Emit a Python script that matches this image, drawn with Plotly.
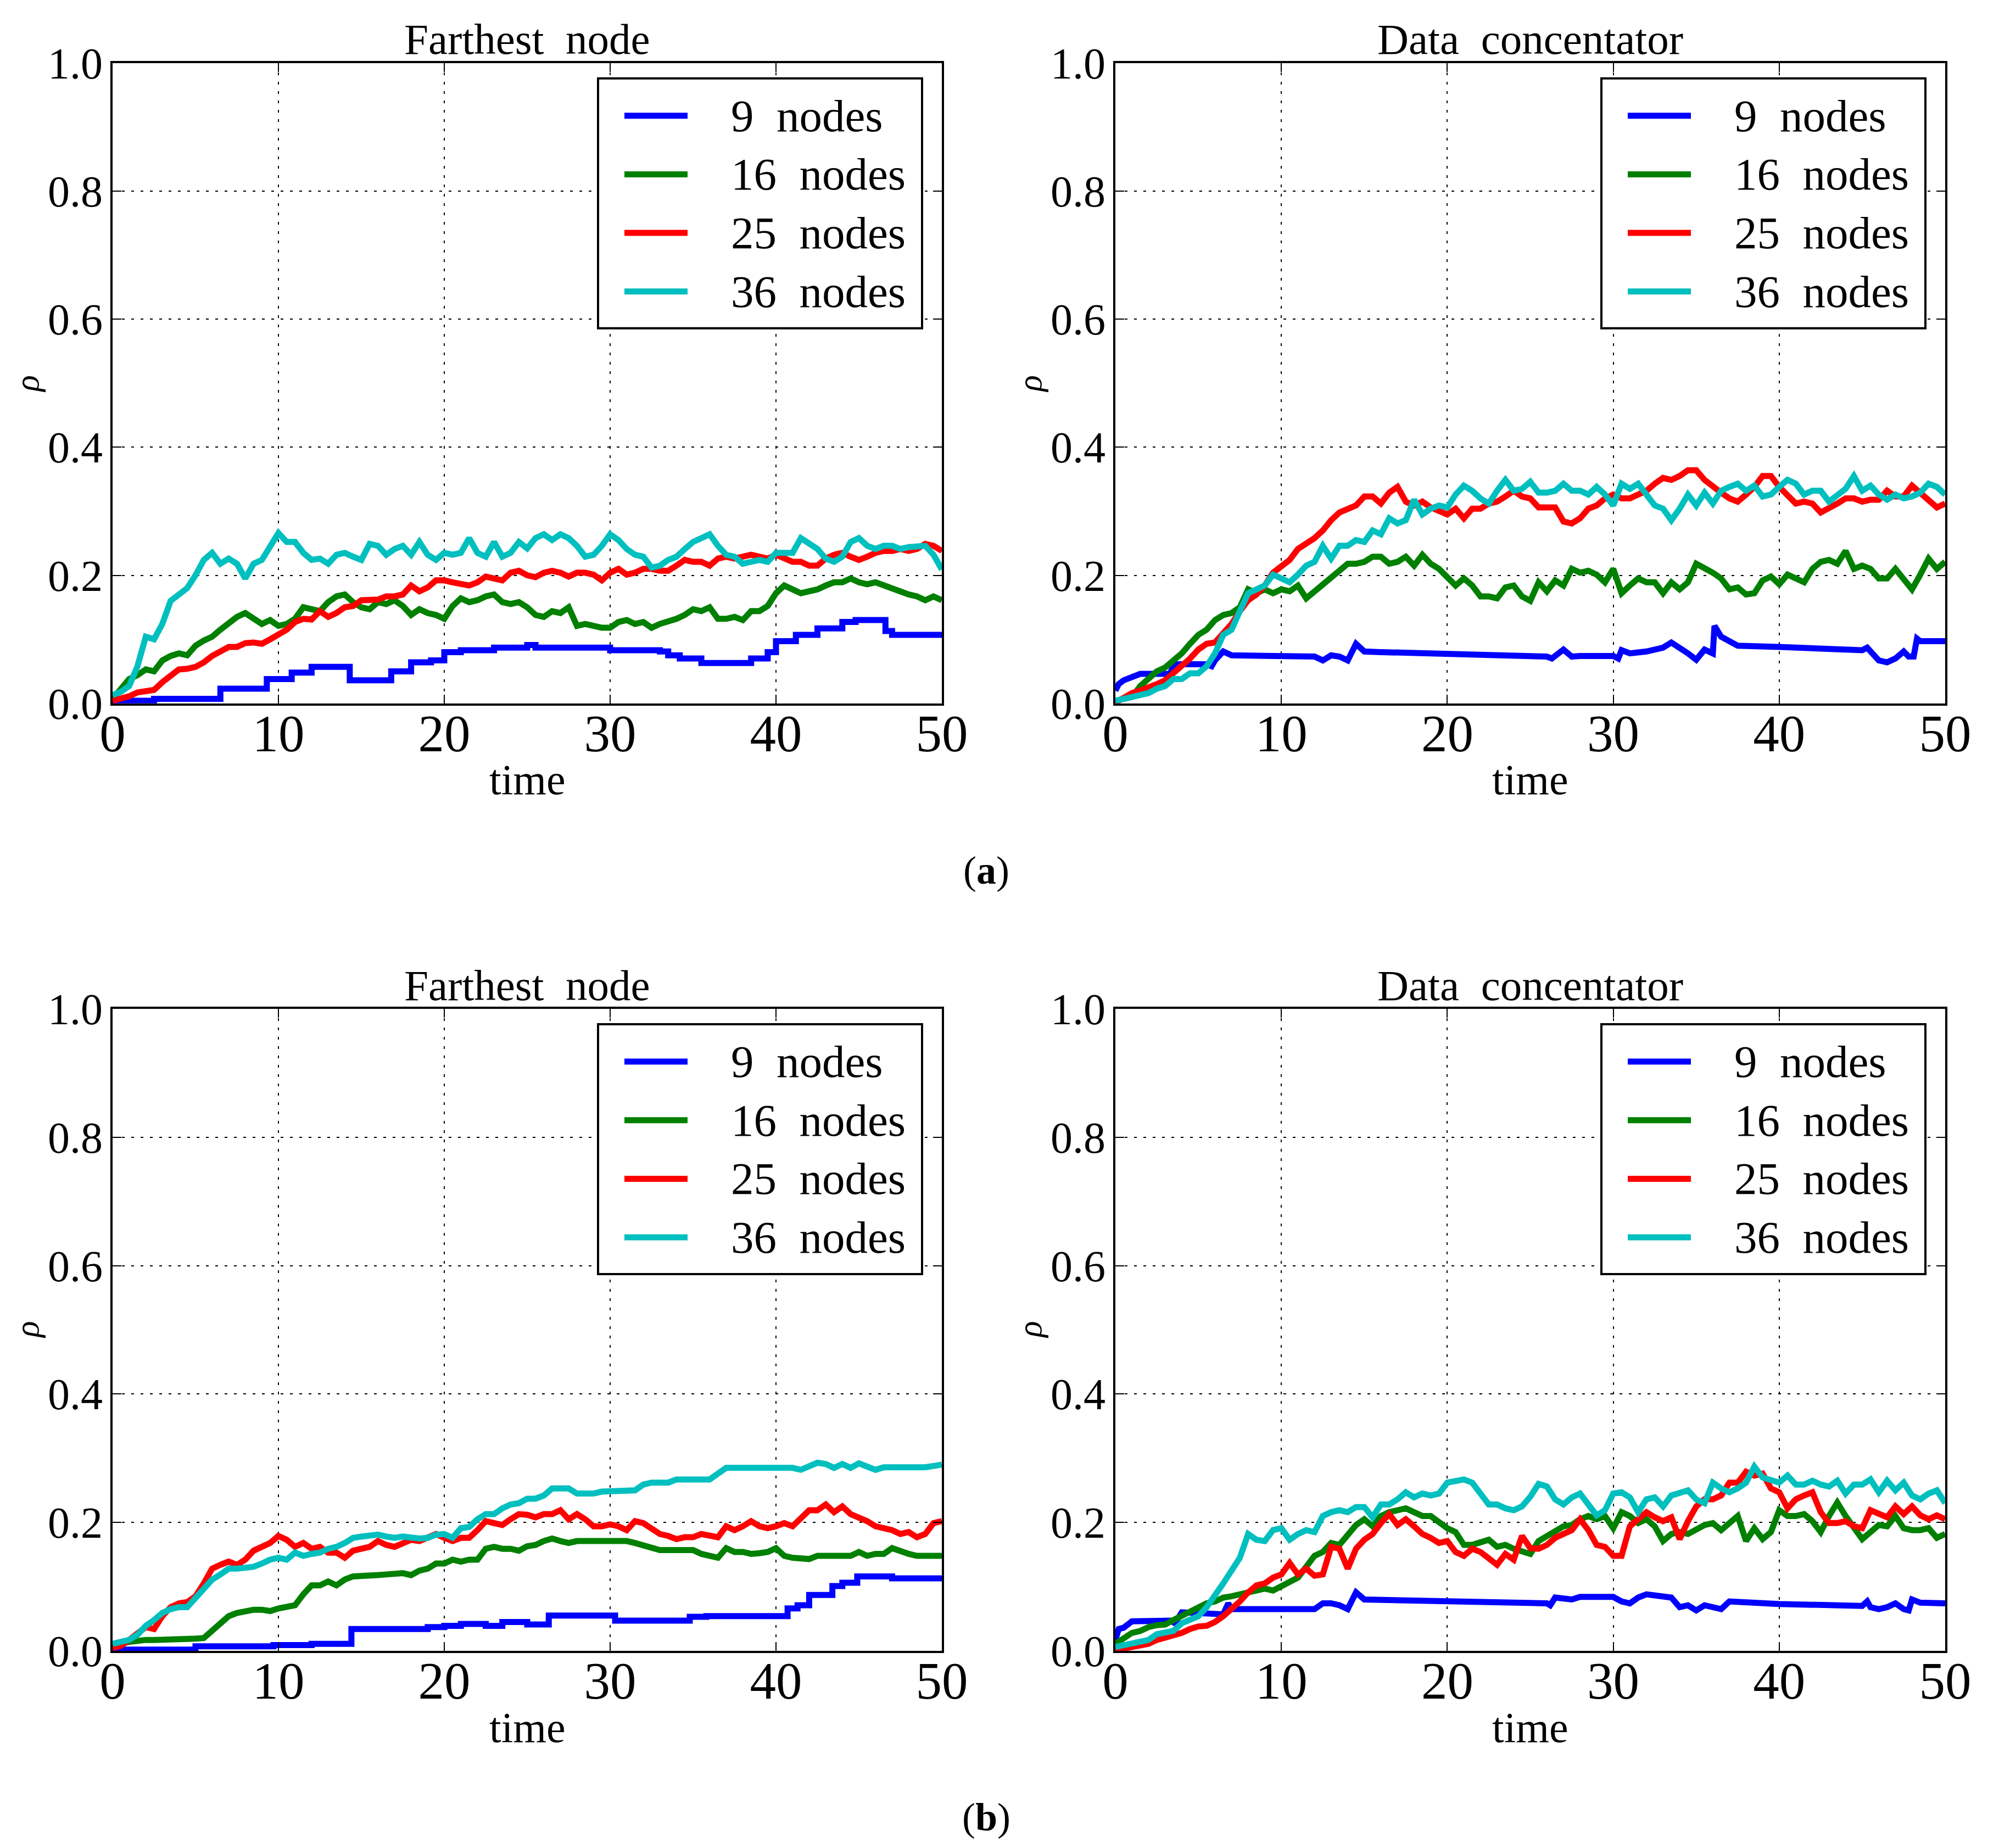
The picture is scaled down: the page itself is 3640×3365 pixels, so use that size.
import plotly.graph_objects as go

# ---------------- data ----------------
# sampling times (every 0.5 time unit) for the noisy series
t_half = [i * 0.5 for i in range(101)]

LABELS = ["9\u2002nodes", "16\u2002nodes", "25\u2002nodes", "36\u2002nodes"]
COLORS = ["#0000ff", "#008000", "#ff0000", "#00bfbf"]

# ---- (a) Farthest node ----
a_fn_9_t = [0, 1, 2.5, 6.5, 9.3, 10.8, 12, 14.3, 16.8, 18, 19.2, 20, 21, 23, 25, 25.5, 30,
            33, 33.5, 34.2, 35.5, 38.5, 39.5, 40, 41.2, 42.5, 44, 44.8, 46.6, 47, 50]
a_fn_9 = [0.001, 0.004, 0.007, 0.023, 0.038, 0.048, 0.057, 0.036, 0.050, 0.064, 0.067, 0.080,
          0.083, 0.087, 0.091, 0.087, 0.083, 0.081, 0.075, 0.070, 0.063, 0.070, 0.080, 0.097,
          0.107, 0.117, 0.127, 0.130, 0.113, 0.107, 0.107]
a_fn_16 = [0.007, 0.024, 0.038, 0.044, 0.053, 0.050, 0.067, 0.074, 0.078, 0.075, 0.090, 0.098,
           0.104, 0.115, 0.124, 0.135, 0.141, 0.132, 0.124, 0.130, 0.121, 0.124, 0.132, 0.150,
           0.147, 0.144, 0.158, 0.167, 0.170, 0.158, 0.150, 0.147, 0.158, 0.155, 0.161, 0.152,
           0.138, 0.147, 0.141, 0.138, 0.132, 0.152, 0.164, 0.158, 0.161, 0.167, 0.170, 0.158,
           0.155, 0.158, 0.150, 0.138, 0.135, 0.144, 0.141, 0.150, 0.121, 0.124, 0.121, 0.118,
           0.118, 0.127, 0.130, 0.124, 0.127, 0.118, 0.124, 0.127, 0.132, 0.138, 0.147, 0.144,
           0.150, 0.132, 0.132, 0.135, 0.130, 0.144, 0.144, 0.152, 0.172, 0.184, 0.178, 0.172,
           0.175, 0.178, 0.184, 0.189, 0.189, 0.195, 0.189, 0.186, 0.189, 0.184, 0.178, 0.175,
           0.170, 0.167, 0.161, 0.167, 0.161]
a_fn_25 = [0.004, 0.007, 0.011, 0.017, 0.020, 0.021, 0.033, 0.044, 0.053, 0.054, 0.057, 0.064,
           0.074, 0.081, 0.088, 0.088, 0.094, 0.095, 0.093, 0.100, 0.107, 0.115, 0.127, 0.132,
           0.131, 0.144, 0.135, 0.141, 0.150, 0.152, 0.161, 0.161, 0.162, 0.167, 0.167, 0.170,
           0.184, 0.175, 0.181, 0.192, 0.192, 0.189, 0.186, 0.184, 0.189, 0.198, 0.195, 0.192,
           0.204, 0.207, 0.200, 0.197, 0.204, 0.207, 0.204, 0.198, 0.204, 0.204, 0.201, 0.192,
           0.204, 0.210, 0.201, 0.204, 0.210, 0.210, 0.207, 0.207, 0.215, 0.224, 0.221, 0.221,
           0.215, 0.226, 0.229, 0.226, 0.229, 0.232, 0.229, 0.226, 0.232, 0.226, 0.221, 0.221,
           0.215, 0.215, 0.226, 0.232, 0.235, 0.229, 0.224, 0.229, 0.235, 0.238, 0.238, 0.241,
           0.238, 0.241, 0.249, 0.246, 0.238]
a_fn_36 = [0.013, 0.018, 0.027, 0.058, 0.104, 0.100, 0.124, 0.160, 0.170, 0.180, 0.200, 0.224,
           0.235, 0.218, 0.226, 0.218, 0.195, 0.218, 0.224, 0.246, 0.266, 0.252, 0.252, 0.235,
           0.224, 0.226, 0.218, 0.232, 0.235, 0.229, 0.224, 0.249, 0.246, 0.232, 0.241, 0.246,
           0.232, 0.252, 0.232, 0.224, 0.235, 0.232, 0.235, 0.258, 0.235, 0.229, 0.252, 0.229,
           0.235, 0.252, 0.242, 0.258, 0.264, 0.255, 0.264, 0.258, 0.246, 0.229, 0.232, 0.246,
           0.264, 0.255, 0.241, 0.232, 0.229, 0.212, 0.215, 0.224, 0.229, 0.241, 0.252, 0.258,
           0.264, 0.246, 0.232, 0.229, 0.218, 0.221, 0.224, 0.221, 0.235, 0.235, 0.235, 0.258,
           0.249, 0.241, 0.226, 0.221, 0.229, 0.252, 0.258, 0.246, 0.241, 0.246, 0.246, 0.241,
           0.244, 0.246, 0.246, 0.232, 0.209]

# ---- (a) Data concentator ----
a_dc_9_t = [0, 0.2, 0.5, 1, 1.5, 3.3, 3.5, 5.5, 5.8, 6, 6.5, 7, 9, 12, 12.5, 13, 13.5, 14, 14.5,
            15, 16, 20, 25, 26, 26.3, 27, 27.5, 28, 30, 30.3, 30.5, 31, 32, 32.5, 33, 33.5, 34,
            34.5, 35, 35.5, 36, 36.1, 36.5, 37, 37.5, 40, 45, 45.3, 46, 46.5, 47, 47.5, 47.8,
            48.1, 48.3, 48.5, 50]
a_dc_9 = [0.020, 0.030, 0.036, 0.041, 0.046, 0.046, 0.061, 0.061, 0.058, 0.067, 0.081, 0.075,
          0.074, 0.073, 0.067, 0.075, 0.073, 0.067, 0.093, 0.081, 0.080, 0.077, 0.074, 0.073,
          0.070, 0.084, 0.073, 0.074, 0.074, 0.070, 0.083, 0.078, 0.081, 0.083, 0.087, 0.095,
          0.087, 0.078, 0.068, 0.084, 0.078, 0.121, 0.104, 0.098, 0.090, 0.088, 0.083, 0.087,
          0.067, 0.064, 0.070, 0.081, 0.073, 0.073, 0.101, 0.097, 0.097]
a_dc_16 = [0.004, 0.007, 0.010, 0.027, 0.038, 0.050, 0.056, 0.067, 0.078, 0.093, 0.107, 0.115,
           0.130, 0.138, 0.141, 0.150, 0.178, 0.172, 0.178, 0.172, 0.178, 0.175, 0.184, 0.164,
           0.175, 0.186, 0.198, 0.210, 0.218, 0.218, 0.221, 0.229, 0.229, 0.218, 0.221, 0.229,
           0.215, 0.232, 0.218, 0.210, 0.198, 0.184, 0.195, 0.184, 0.167, 0.167, 0.164, 0.181,
           0.184, 0.167, 0.160, 0.189, 0.175, 0.192, 0.184, 0.210, 0.204, 0.207, 0.201, 0.189,
           0.210, 0.172, 0.184, 0.195, 0.189, 0.189, 0.172, 0.189, 0.178, 0.189, 0.218, 0.212,
           0.204, 0.195, 0.178, 0.181, 0.170, 0.172, 0.192, 0.198, 0.186, 0.201, 0.195, 0.189,
           0.210, 0.221, 0.224, 0.218, 0.238, 0.210, 0.215, 0.210, 0.195, 0.195, 0.210, 0.195,
           0.178, 0.201, 0.226, 0.210, 0.221]
a_dc_25 = [0.001, 0.009, 0.016, 0.020, 0.024, 0.030, 0.036, 0.047, 0.058, 0.070, 0.084, 0.093,
           0.095, 0.110, 0.124, 0.144, 0.161, 0.170, 0.184, 0.204, 0.215, 0.224, 0.241, 0.249,
           0.258, 0.270, 0.286, 0.298, 0.304, 0.309, 0.323, 0.323, 0.312, 0.329, 0.338, 0.315,
           0.309, 0.315, 0.306, 0.301, 0.295, 0.304, 0.289, 0.304, 0.304, 0.312, 0.315, 0.323,
           0.332, 0.323, 0.320, 0.306, 0.306, 0.306, 0.284, 0.281, 0.289, 0.304, 0.309, 0.320,
           0.326, 0.320, 0.320, 0.326, 0.332, 0.343, 0.352, 0.349, 0.355, 0.364, 0.364, 0.349,
           0.338, 0.329, 0.320, 0.315, 0.326, 0.338, 0.355, 0.355, 0.338, 0.326, 0.312, 0.315,
           0.312, 0.298, 0.304, 0.312, 0.320, 0.320, 0.315, 0.318, 0.318, 0.332, 0.323, 0.323,
           0.340, 0.329, 0.318, 0.306, 0.312]
a_dc_36 = [0.004, 0.007, 0.010, 0.013, 0.016, 0.023, 0.027, 0.038, 0.038, 0.047, 0.047, 0.058,
           0.078, 0.107, 0.115, 0.144, 0.172, 0.178, 0.184, 0.201, 0.195, 0.189, 0.201, 0.215,
           0.221, 0.246, 0.226, 0.246, 0.246, 0.255, 0.252, 0.270, 0.264, 0.289, 0.281, 0.286,
           0.318, 0.295, 0.304, 0.309, 0.306, 0.326, 0.340, 0.332, 0.320, 0.312, 0.332, 0.349,
           0.332, 0.335, 0.346, 0.329, 0.329, 0.332, 0.343, 0.332, 0.332, 0.326, 0.338, 0.326,
           0.309, 0.343, 0.335, 0.343, 0.326, 0.309, 0.304, 0.286, 0.304, 0.326, 0.309, 0.329,
           0.312, 0.332, 0.338, 0.343, 0.332, 0.340, 0.323, 0.326, 0.338, 0.349, 0.343, 0.326,
           0.332, 0.332, 0.315, 0.326, 0.335, 0.355, 0.332, 0.340, 0.326, 0.318, 0.326, 0.320,
           0.323, 0.329, 0.343, 0.338, 0.326]

# ---- (b) Farthest node ----
b_fn_9_t = [0, 5, 9.7, 12, 14.4, 19, 20, 21, 22.5, 23.5, 25, 26.3, 30.3, 34.8, 35.8, 40.7,
            41.3, 42, 43.4, 44, 44.9, 47, 50]
b_fn_9 = [0.002, 0.007, 0.009, 0.011, 0.034, 0.037, 0.039, 0.042, 0.039, 0.045, 0.041, 0.055,
          0.047, 0.053, 0.054, 0.066, 0.071, 0.087, 0.101, 0.106, 0.116, 0.113, 0.111]
b_fn_16 = [0.005, 0.011, 0.014, 0.016, 0.017, 0.017, 0.017, 0.018, 0.018, 0.019, 0.019, 0.020,
           0.031, 0.045, 0.054, 0.059, 0.062, 0.064, 0.064, 0.062, 0.066, 0.068, 0.071, 0.088,
           0.102, 0.102, 0.108, 0.102, 0.111, 0.116, 0.116, 0.118, 0.118, 0.119, 0.119, 0.121,
           0.118, 0.125, 0.128, 0.136, 0.136, 0.142, 0.139, 0.142, 0.142, 0.159, 0.162, 0.159,
           0.159, 0.156, 0.163, 0.165, 0.171, 0.175, 0.171, 0.168, 0.171, 0.171, 0.171, 0.172,
           0.172, 0.171, 0.171, 0.168, 0.165, 0.160, 0.157, 0.157, 0.157, 0.157, 0.157, 0.151,
           0.148, 0.145, 0.160, 0.154, 0.154, 0.151, 0.152, 0.154, 0.160, 0.148, 0.145, 0.143,
           0.143, 0.148, 0.148, 0.148, 0.149, 0.148, 0.154, 0.148, 0.151, 0.151, 0.160, 0.155,
           0.151, 0.148, 0.148, 0.148, 0.148]
b_fn_25 = [0.004, 0.008, 0.017, 0.028, 0.037, 0.034, 0.054, 0.068, 0.074, 0.076, 0.085, 0.105,
           0.128, 0.134, 0.139, 0.134, 0.142, 0.156, 0.162, 0.168, 0.179, 0.173, 0.162, 0.168,
           0.159, 0.162, 0.153, 0.153, 0.145, 0.156, 0.159, 0.162, 0.171, 0.165, 0.162, 0.168,
           0.173, 0.171, 0.176, 0.182, 0.176, 0.171, 0.176, 0.176, 0.188, 0.202, 0.199, 0.196,
           0.205, 0.213, 0.212, 0.208, 0.213, 0.213, 0.219, 0.205, 0.213, 0.205, 0.194, 0.194,
           0.197, 0.194, 0.188, 0.202, 0.199, 0.191, 0.182, 0.179, 0.174, 0.177, 0.177, 0.182,
           0.179, 0.177, 0.194, 0.188, 0.194, 0.202, 0.194, 0.191, 0.194, 0.199, 0.194, 0.205,
           0.219, 0.219, 0.228, 0.216, 0.225, 0.213, 0.208, 0.202, 0.194, 0.191, 0.188, 0.182,
           0.185, 0.177, 0.182, 0.199, 0.202]
b_fn_36 = [0.011, 0.014, 0.017, 0.025, 0.039, 0.048, 0.059, 0.065, 0.068, 0.068, 0.082, 0.099,
           0.111, 0.119, 0.128, 0.128, 0.129, 0.131, 0.136, 0.142, 0.145, 0.142, 0.153, 0.148,
           0.151, 0.153, 0.159, 0.162, 0.168, 0.176, 0.178, 0.179, 0.181, 0.178, 0.176, 0.178,
           0.176, 0.175, 0.176, 0.181, 0.182, 0.176, 0.191, 0.193, 0.205, 0.213, 0.213, 0.222,
           0.228, 0.230, 0.237, 0.237, 0.242, 0.253, 0.253, 0.253, 0.245, 0.245, 0.245, 0.248,
           0.248, 0.248, 0.250, 0.250, 0.259, 0.262, 0.262, 0.262, 0.267, 0.267, 0.267, 0.267,
           0.267, 0.276, 0.285, 0.285, 0.285, 0.285, 0.284, 0.285, 0.285, 0.285, 0.285, 0.282,
           0.288, 0.293, 0.291, 0.285, 0.291, 0.285, 0.292, 0.288, 0.282, 0.286, 0.286, 0.285,
           0.285, 0.286, 0.286, 0.288, 0.290]

# ---- (b) Data concentator ----
b_dc_9_t = [0, 0.2, 0.5, 1, 3.3, 3.6, 4, 6.5, 6.8, 7, 12, 12.5, 13, 13.5, 14, 14.5, 15, 20, 25,
            26, 26.2, 26.5, 27.5, 28, 30, 30.5, 31, 31.5, 32, 33, 33.5, 34, 34.5, 35, 35.5, 36,
            36.5, 37, 40, 45, 45.3, 45.5, 46, 46.5, 47, 47.5, 47.8, 48, 48.5, 50]
b_dc_9 = [0.017, 0.034, 0.036, 0.046, 0.047, 0.043, 0.060, 0.057, 0.074, 0.065, 0.065, 0.074,
          0.074, 0.071, 0.065, 0.091, 0.080, 0.078, 0.075, 0.074, 0.071, 0.083, 0.080, 0.084,
          0.084, 0.077, 0.074, 0.083, 0.088, 0.085, 0.083, 0.068, 0.071, 0.063, 0.071, 0.068,
          0.065, 0.077, 0.073, 0.070, 0.077, 0.068, 0.065, 0.068, 0.074, 0.065, 0.063, 0.080,
          0.075, 0.074]
b_dc_16 = [0.011, 0.020, 0.028, 0.031, 0.037, 0.040, 0.041, 0.048, 0.055, 0.060, 0.068, 0.074,
           0.077, 0.083, 0.085, 0.088, 0.091, 0.094, 0.097, 0.094, 0.100, 0.108, 0.114, 0.131,
           0.148, 0.154, 0.168, 0.165, 0.179, 0.196, 0.205, 0.194, 0.210, 0.216, 0.219, 0.222,
           0.216, 0.210, 0.210, 0.199, 0.191, 0.185, 0.165, 0.165, 0.168, 0.173, 0.162, 0.165,
           0.159, 0.154, 0.151, 0.171, 0.179, 0.188, 0.194, 0.196, 0.205, 0.210, 0.205, 0.210,
           0.191, 0.216, 0.210, 0.199, 0.205, 0.194, 0.171, 0.182, 0.185, 0.182, 0.188, 0.196,
           0.199, 0.188, 0.199, 0.210, 0.171, 0.191, 0.174, 0.185, 0.219, 0.210, 0.210, 0.213,
           0.202, 0.185, 0.210, 0.231, 0.210, 0.191, 0.174, 0.185, 0.196, 0.194, 0.210, 0.191,
           0.188, 0.188, 0.191, 0.176, 0.182]
b_dc_25 = [0.001, 0.004, 0.006, 0.009, 0.011, 0.017, 0.020, 0.024, 0.028, 0.034, 0.038, 0.039,
           0.045, 0.054, 0.065, 0.077, 0.091, 0.102, 0.105, 0.114, 0.119, 0.137, 0.119, 0.128,
           0.117, 0.119, 0.162, 0.159, 0.128, 0.159, 0.173, 0.182, 0.199, 0.213, 0.196, 0.205,
           0.194, 0.182, 0.176, 0.168, 0.171, 0.154, 0.148, 0.159, 0.154, 0.145, 0.134, 0.151,
           0.142, 0.179, 0.160, 0.159, 0.165, 0.176, 0.182, 0.188, 0.205, 0.188, 0.165, 0.162,
           0.148, 0.148, 0.194, 0.205, 0.216, 0.208, 0.202, 0.208, 0.174, 0.202, 0.225, 0.236,
           0.236, 0.242, 0.262, 0.262, 0.279, 0.273, 0.276, 0.253, 0.247, 0.222, 0.236, 0.242,
           0.247, 0.216, 0.199, 0.199, 0.202, 0.194, 0.191, 0.219, 0.213, 0.208, 0.225, 0.213,
           0.225, 0.211, 0.205, 0.211, 0.205]
b_dc_36 = [0.006, 0.009, 0.011, 0.013, 0.017, 0.026, 0.028, 0.031, 0.043, 0.048, 0.054, 0.068,
           0.085, 0.105, 0.125, 0.145, 0.182, 0.173, 0.171, 0.188, 0.191, 0.173, 0.182, 0.188,
           0.185, 0.210, 0.216, 0.219, 0.216, 0.224, 0.224, 0.208, 0.228, 0.228, 0.236, 0.247,
           0.239, 0.245, 0.242, 0.245, 0.262, 0.265, 0.267, 0.262, 0.245, 0.228, 0.228, 0.222,
           0.219, 0.225, 0.240, 0.260, 0.256, 0.236, 0.228, 0.239, 0.245, 0.228, 0.211, 0.219,
           0.245, 0.247, 0.239, 0.216, 0.236, 0.239, 0.225, 0.242, 0.247, 0.250, 0.236, 0.230,
           0.262, 0.253, 0.247, 0.253, 0.262, 0.287, 0.270, 0.265, 0.262, 0.273, 0.259, 0.259,
           0.265, 0.259, 0.256, 0.265, 0.245, 0.259, 0.259, 0.267, 0.247, 0.265, 0.250, 0.262,
           0.242, 0.236, 0.245, 0.250, 0.230]

PANELS = [
    # (title, 9-node times, 9-node values, 9-node step?, 16, 25, 36)
    ("Farthest\u2002node", a_fn_9_t, a_fn_9, True, a_fn_16, a_fn_25, a_fn_36),
    ("Data\u2002concentator", a_dc_9_t, a_dc_9, False, a_dc_16, a_dc_25, a_dc_36),
    ("Farthest\u2002node", b_fn_9_t, b_fn_9, True, b_fn_16, b_fn_25, b_fn_36),
    ("Data\u2002concentator", b_dc_9_t, b_dc_9, False, b_dc_16, b_dc_25, b_dc_36),
]

# ---------------- layout geometry (pixels of a 3640 x 3365 canvas) ----------------
W, H = 3640, 3365
FONT = "Liberation Serif"
X_DOMS = [(197, 1707), (2023, 3534)]
Y_DOMS = [(106.7, 1272.7), (1829, 2998)]   # top, bottom in pixels from top
LINE_W = 11


def px(x):
    return x / W


def py(y):
    return 1 - y / H


fig = go.Figure()
layout = dict(width=W, height=H, margin=dict(l=0, r=0, t=0, b=0, pad=0),
              paper_bgcolor="white", plot_bgcolor="white", showlegend=False,
              annotations=[], shapes=[])

for k, (title, t9, v9, step9, v16, v25, v36) in enumerate(PANELS):
    row, col = divmod(k, 2)
    sfx = "" if k == 0 else str(k + 1)
    xs = [t9, t_half, t_half, t_half]
    ys = [v9, v16, v25, v36]
    for j in range(4):
        fig.add_trace(go.Scatter(
            x=xs[j], y=ys[j], mode="lines", name=LABELS[j],
            line=dict(color=COLORS[j], width=LINE_W,
                      shape="hv" if (j == 0 and step9) else "linear"),
            xaxis="x" + sfx, yaxis="y" + sfx))

    x0, x1 = X_DOMS[col]
    yt, yb = Y_DOMS[row]
    axcommon = dict(showline=True, mirror="ticks", linecolor="black", linewidth=4,
                    ticks="inside", ticklen=16, tickwidth=2, tickcolor="black",
                    showgrid=True, gridcolor="black", gridwidth=2, griddash="5px,12px",
                    zeroline=False, automargin=False)
    layout["xaxis" + sfx] = dict(axcommon, domain=[px(x0), px(x1)], range=[0, 50],
                                 tickvals=[0, 10, 20, 30, 40, 50],
                                 tickfont=dict(family=FONT, size=95, color="black"),
                                 ticklabelstandoff=-31,
                                 anchor="y" + sfx)
    layout["yaxis" + sfx] = dict(axcommon, domain=[py(yb), py(yt)], range=[0, 1],
                                 tickvals=[0, 0.2, 0.4, 0.6, 0.8, 1.0], tickformat=".1f",
                                 tickfont=dict(family=FONT, size=80, color="black"),
                                 ticklabelstandoff=-2,
                                 anchor="x" + sfx)

    # legend box (upper right of each panel)
    lx0, lx1 = x1 - 626, x1 - 36
    ly0, ly1 = yt + 28, yt + 483
    layout["shapes"].append(dict(type="rect", xref="paper", yref="paper",
                                 x0=px(lx0), x1=px(lx1), y0=py(ly1), y1=py(ly0),
                                 line=dict(color="black", width=4), fillcolor="white",
                                 layer="above"))
    for j in range(4):
        ry = yt + 96 + j * 106.7
        layout["shapes"].append(dict(type="line", xref="paper", yref="paper",
                                     x0=px(lx0 + 48), x1=px(lx0 + 163), y0=py(ry), y1=py(ry),
                                     line=dict(color=COLORS[j], width=LINE_W), layer="above"))
        layout["annotations"].append(dict(text=LABELS[j], x=px(lx0 + 240), y=py(ry),
                                          xref="paper", yref="paper", showarrow=False,
                                          xanchor="left", yanchor="middle",
                                          font=dict(family=FONT, size=83, color="black")))

    cx = px((x0 + x1) / 2)
    layout["annotations"] += [
        dict(text=title, x=cx, y=py(yt - 43), xref="paper", yref="paper",
             showarrow=False, xanchor="center", yanchor="middle",
             font=dict(family=FONT, size=79, color="black")),
        dict(text="time", x=cx, y=py(yb + 139), xref="paper", yref="paper",
             showarrow=False, xanchor="center", yanchor="middle",
             font=dict(family=FONT, size=78, color="black")),
        dict(text="\u03c1", x=px(x0 - 156), y=py(yt + 584), xref="paper", yref="paper",
             showarrow=False, xanchor="center", yanchor="middle", textangle=-90,
             font=dict(family=FONT, size=62, color="black", style="italic")),
    ]

layout["annotations"] += [
    dict(text="(<b>a</b>)", x=px(1788), y=py(1577), xref="paper", yref="paper",
         showarrow=False, xanchor="center", yanchor="middle",
         font=dict(family=FONT, size=72, color="black")),
    dict(text="(<b>b</b>)", x=px(1788), y=py(3301), xref="paper", yref="paper",
         showarrow=False, xanchor="center", yanchor="middle",
         font=dict(family=FONT, size=72, color="black")),
]

fig.update_layout(**layout)
fig.write_html("out.html")
